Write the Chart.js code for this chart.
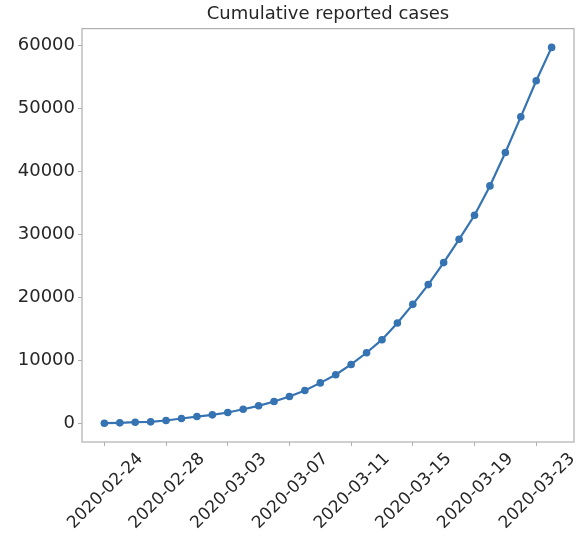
<!DOCTYPE html>
<html>
<head>
<meta charset="utf-8">
<script src="https://cdn.jsdelivr.net/npm/chart.js@4"></script>
<style>
  body { margin: 0; background: #fff; }
  #wrap { width: 581px; height: 536px; }
</style>
</head>
<body>
<div id="wrap"><canvas id="myChart" width="581" height="536"></canvas></div>
<script>
const dates = [
  "2020-02-24", "2020-02-25", "2020-02-26", "2020-02-27", "2020-02-28",
  "2020-02-29", "2020-03-01", "2020-03-02", "2020-03-03", "2020-03-04",
  "2020-03-05", "2020-03-06", "2020-03-07", "2020-03-08", "2020-03-09",
  "2020-03-10", "2020-03-11", "2020-03-12", "2020-03-13", "2020-03-14",
  "2020-03-15", "2020-03-16", "2020-03-17", "2020-03-18", "2020-03-19",
  "2020-03-20", "2020-03-21", "2020-03-22", "2020-03-23", "2020-03-24",
];
const cases = [
  0, 60, 160, 220, 430, 750, 1060, 1330, 1700, 2220,
  2760, 3450, 4240, 5190, 6400, 7690, 9320, 11180, 13250, 15890,
  18860, 21990, 25480, 29180, 33000, 37650, 42960, 48610, 54330, 59630,
];
const xTickDates = ["2020-02-24", "2020-02-28", "2020-03-03", "2020-03-07",
  "2020-03-11", "2020-03-15", "2020-03-19", "2020-03-23"];
const yTicks = [0, 10000, 20000, 30000, 40000, 50000, 60000];

const lineColor = "#3573b2";
const textColor = "#262626";
const frameColor = "#b0b0b0";

// box around the axes like matplotlib
const frame = {
  id: "frame",
  afterDraw(chart) {
    const a = chart.chartArea;
    const c = chart.ctx;
    c.save();
    c.strokeStyle = frameColor;
    c.lineWidth = 1.2;
    c.strokeRect(a.left, a.top, a.right - a.left, a.bottom - a.top);
    c.restore();
  },
};

const ctx = document.getElementById("myChart");

new Chart(ctx, {
  type: "line",
  data: {
    datasets: [
      {
        data: cases.map((v, i) => ({ x: i, y: v })),
        borderColor: lineColor,
        backgroundColor: lineColor,
        borderWidth: 2.2,
        pointRadius: 3.8,
        pointBorderWidth: 0,
        tension: 0,
        fill: false,
      },
    ],
  },
  options: {
    responsive: false,
    animation: false,
    layout: { padding: { left: 0, right: 7, top: 0, bottom: 0 } },
    plugins: {
      legend: { display: false },
      tooltip: { enabled: false },
      title: {
        display: true,
        text: "Cumulative reported cases",
        fullSize: false,
        color: textColor,
        font: { family: "DejaVu Sans", size: 18, weight: "normal" },
        padding: { top: 4, bottom: 3 },
      },
    },
    scales: {
      x: {
        type: "linear",
        min: -1.45,
        max: 30.45,
        afterBuildTicks(scale) {
          scale.ticks = xTickDates.map((d) => ({ value: dates.indexOf(d) }));
        },
        afterFit(scale) {
          scale.height = 94;
        },
        grid: { drawOnChartArea: false, drawTicks: true, tickLength: 4, color: frameColor },
        border: { display: false },
        ticks: {
          autoSkip: false,
          maxRotation: 45,
          minRotation: 45,
          labelOffset: 36,
          padding: 3,
          color: textColor,
          font: { family: "DejaVu Sans", size: 17 },
          callback: (v) => dates[v],
        },
      },
      y: {
        type: "linear",
        min: -2980,
        max: 62610,
        afterBuildTicks(scale) {
          scale.ticks = yTicks.map((v) => ({ value: v }));
        },
        afterFit(scale) {
          scale.width = 82;
        },
        grid: { drawOnChartArea: false, drawTicks: true, tickLength: 4, color: frameColor },
        border: { display: false },
        ticks: {
          padding: 3,
          color: textColor,
          font: { family: "DejaVu Sans", size: 18 },
          callback: (v) => String(v),
        },
      },
    },
  },
  plugins: [frame],
});
</script>
</body>
</html>
